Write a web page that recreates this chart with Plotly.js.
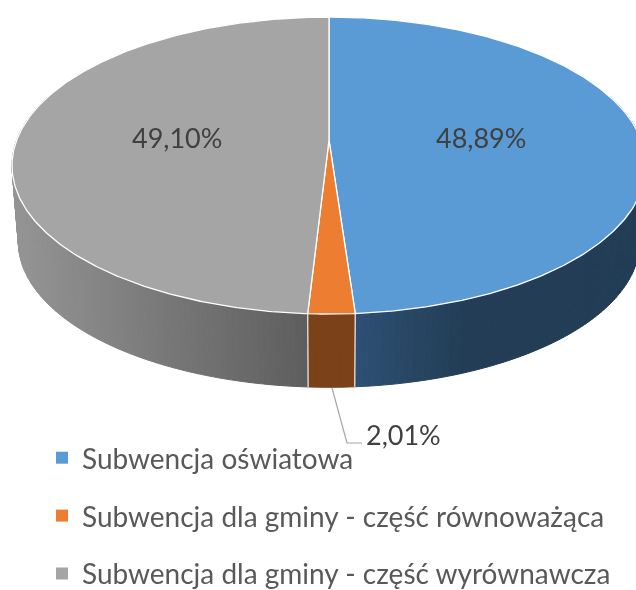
<!DOCTYPE html>
<html><head><meta charset="utf-8">
<script src="https://cdn.plot.ly/plotly-3.0.1.min.js"></script>
<style>html,body{margin:0;padding:0;background:#fff}#c{width:636px;height:590px;filter:blur(0.45px)}</style>
</head><body><div id="c"></div>
<script>
const categories = ['Subwencja oświatowa','Subwencja dla gminy - część równoważąca','Subwencja dla gminy - część wyrównawcza'];
const shares = [48.89, 2.01, 49.10];
const topColors = ['#5b9bd5','#ed7d31','#a5a5a5'];

// Perspective disc: plotly has no 3D pie, so the slices are projected from the shares.
const topPlane = {cx:329, y0:140, A:312.3, R:144.1, k:0.172};
const basePlane = {cx:329, y0:217, A:306, R:141, k:0.172};
function proj(p, deg, r){
  const a = deg*Math.PI/180, u = r*Math.sin(a), v = -r*Math.cos(a), s = 1/(1-p.k*v);
  return [p.cx+p.A*u*s, p.y0+p.R*v*s];
}
function lerp(a,b,t){t=Math.max(0,Math.min(1,t));return Math.round(a+(b-a)*t);}
function grey(t){const c=lerp(148,94,t);return `rgb(${c},${c},${c})`;}
function sideColor(i,x){
  if(i===0){const t=(x-355)/110;return `rgb(${lerp(46,34,t)},${lerp(80,61,t)},${lerp(116,85,t)})`;}
  if(i===1) return '#7b4219';
  return grey((x-15)/290);
}
const sum = shares.reduce((a,b)=>a+b,0);
const traces = [];
let start = 0; const spans=[];
shares.forEach(v=>{const d=v/sum*360; spans.push([start,start+d]); start+=d;});

spans.forEach(([a,b],i)=>{
  const n=Math.max(2,Math.ceil(b-a));
  for(let j=0;j<n;j++){
    const d0=a+(b-a)*j/n,d1=a+(b-a)*(j+1)/n;
    const p=[proj(topPlane,d0,1),proj(topPlane,d1,1),proj(basePlane,d1,1),proj(basePlane,d0,1)];
    if(-Math.cos(d0*Math.PI/180)<-0.3&&-Math.cos(d1*Math.PI/180)<-0.3) continue;
    const col=sideColor(i,(p[0][0]+p[1][0])/2);
    traces.push({type:'scatter',mode:'lines',x:p.map(q=>q[0]).concat(p[0][0]),y:p.map(q=>q[1]).concat(p[0][1]),
      fill:'toself',fillcolor:col,line:{color:col,width:1},showlegend:false,hoverinfo:'skip'});
  }
});
// seams on the wall
[spans[0][1],spans[1][1]].forEach(d=>{
  const p=proj(topPlane,d,1),q=proj(basePlane,d,1);
  traces.push({type:'scatter',mode:'lines',x:[p[0],q[0]],y:[p[1],q[1]],line:{color:'#e4e4e4',width:1.3},showlegend:false,hoverinfo:'skip'});
});
// top faces
spans.forEach(([a,b],i)=>{
  const xs=[],ys=[];
  const c=proj(topPlane,0,0);xs.push(c[0]);ys.push(c[1]);
  const n=Math.ceil((b-a)*2);
  for(let j=0;j<=n;j++){const p=proj(topPlane,a+(b-a)*j/n,1);xs.push(p[0]);ys.push(p[1]);}
  xs.push(c[0]);ys.push(c[1]);
  traces.push({type:'scatter',mode:'lines',x:xs,y:ys,fill:'toself',fillcolor:topColors[i],
    line:{color:'#ffffff',width:1.3},showlegend:false,name:categories[i],hoverinfo:'name'});
});
// leader line
traces.push({type:'scatter',mode:'lines',x:[332,347,362],y:[388,443,443],line:{color:'#a6a6a6',width:1.2},showlegend:false,hoverinfo:'skip'});
// legend entries
categories.forEach((c,i)=>traces.push({type:'scatter',mode:'markers',x:[null],y:[null],name:c,legendgroup:'g'+i,
  marker:{symbol:'square',size:12,color:topColors[i]},hoverinfo:'skip'}));

const pct=v=>v.toFixed(2).replace('.',',')+'%';
const labelX=[481,403,177], labelY=[137,434,137];
const annotations=shares.map((v,i)=>({x:labelX[i],y:labelY[i],xref:'x',yref:'y',text:pct(v),showarrow:false,
  font:{family:'Lato',size:27,color:'#404040'}}));

Plotly.newPlot('c',traces,{
  width:636,height:590,margin:{l:0,r:0,t:0,b:0,autoexpand:false},paper_bgcolor:'#fff',plot_bgcolor:'#fff',
  xaxis:{range:[0,636],visible:false,fixedrange:true},
  yaxis:{range:[590,0],visible:false,fixedrange:true},
  showlegend:true,
  legend:{x:42/636,y:1-433/590,xanchor:'left',yanchor:'top',tracegroupgap:18.5,bgcolor:'rgba(0,0,0,0)',
    font:{family:'Lato',size:28,color:'#595959'},itemclick:false,itemdoubleclick:false},
  annotations
},{staticPlot:true,displayModeBar:false});
</script></body></html>
